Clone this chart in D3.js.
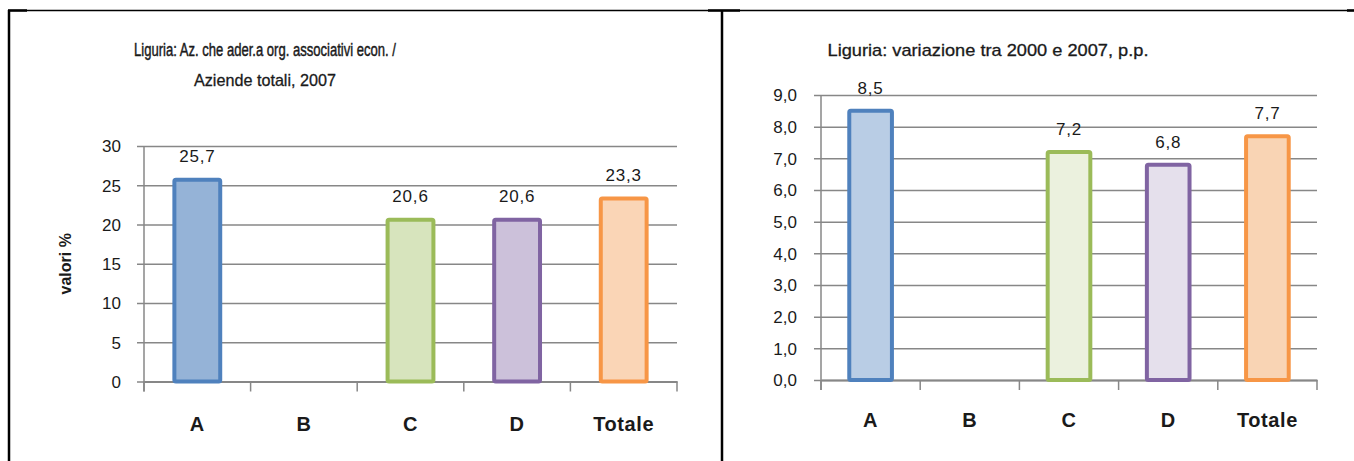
<!DOCTYPE html>
<html>
<head>
<meta charset="utf-8">
<script src="https://cdn.jsdelivr.net/npm/d3@7"></script>
<style>
  html, body { margin: 0; padding: 0; background: #fff; }
  svg { display: block; }
  .title { font-family: "Liberation Sans", Arial, sans-serif; font-size: 17px; fill: #1a1a1a; stroke: #1a1a1a; stroke-width: 0.3px; }
  .title.dense { font-size: 18px; stroke-width: 0.45px; }
  .tick text { font-family: "Liberation Sans", Arial, sans-serif; font-size: 17px; fill: #1a1a1a; }
  .cat text { font-family: "Liberation Sans", Arial, sans-serif; font-size: 20px; font-weight: bold; letter-spacing: 0.6px; fill: #1a1a1a; }
  .val { font-family: "Liberation Sans", Arial, sans-serif; font-size: 17px; letter-spacing: 0.8px; fill: #1a1a1a; }
  .ytitle { font-family: "Liberation Sans", Arial, sans-serif; font-size: 16px; font-weight: bold; fill: #1a1a1a; }
</style>
</head>
<body>
<svg id="chart" width="1354" height="461"></svg>
<script>
// Categories shared by both panels
const categories = ["A", "B", "C", "D", "Totale"];

// Left panel: share of farms in economic associations, 2007 (% values); B has no value
const shareValues = [25.7, null, 20.6, 20.6, 23.3];
const shareTicks = [0, 5, 10, 15, 20, 25, 30];

// Right panel: change between 2000 and 2007, percentage points; B has no value
const changeValues = [8.5, null, 7.2, 6.8, 7.7];
const changeTicks = [0, 1, 2, 3, 4, 5, 6, 7, 8, 9];

// Per-category bar colours
const strokeColors = ["#4f81bd", "#4f81bd", "#9bbb59", "#8064a2", "#f79646"];
const fillLeft = ["#95b3d7", "#95b3d7", "#d7e4bd", "#ccc1da", "#fad5b6"];
const fillRight = ["#b9cde5", "#b9cde5", "#ebf1de", "#e5e0ec", "#f9d4b4"];

const svg = d3.select("#chart");
const fmt = v => d3.format(".1f")(v).replace(".", ",");

// Panel frame lines
const frame = svg.append("g").attr("stroke", "#000").attr("fill", "none");
frame.append("line").attr("x1", 8).attr("x2", 1354).attr("y1", 10.5).attr("y2", 10.5).attr("stroke-width", 1.5);
frame.append("line").attr("x1", 8).attr("x2", 27).attr("y1", 10.5).attr("y2", 10.5).attr("stroke-width", 2.5);
frame.append("line").attr("x1", 708).attr("x2", 740).attr("y1", 10.5).attr("y2", 10.5).attr("stroke-width", 2.5);
frame.append("line").attr("x1", 1347).attr("x2", 1354).attr("y1", 10.5).attr("y2", 10.5).attr("stroke-width", 2.5);
frame.append("line").attr("x1", 9).attr("x2", 9).attr("y1", 10).attr("y2", 461).attr("stroke-width", 2.5);
frame.append("line").attr("x1", 722).attr("x2", 722).attr("y1", 10).attr("y2", 461).attr("stroke-width", 2.5);

function drawPanel(opts) {
  const g = svg.append("g");
  const x = d3.scaleBand().domain(categories).range([opts.x0, opts.x1]).paddingInner(0).paddingOuter(0);
  const y = d3.scaleLinear().domain([0, opts.max]).range([opts.yBase, opts.yTop]);
  const barW = x.bandwidth() * 0.43;

  // Title, one text element per line, fitted to a narrow face width
  opts.title.forEach((line, i) => {
    g.append("text").attr("class", "title" + (opts.titleDense && opts.titleDense[i] ? " dense" : ""))
      .attr("text-anchor", "middle")
      .attr("x", opts.titleX).attr("y", opts.titleY + i * 30)
      .attr("textLength", opts.titleWidths[i]).attr("lengthAdjust", "spacingAndGlyphs")
      .text(line);
  });

  // Gridlines and value axis
  const yAxis = g.append("g").attr("class", "yaxis")
    .attr("transform", `translate(${opts.x0},0)`)
    .call(d3.axisLeft(y).tickValues(opts.ticks).tickFormat(opts.tickFormat)
      .tickSize(-(opts.x1 - opts.x0)).tickSizeOuter(0).tickPadding(0));
  yAxis.select(".domain").remove();
  yAxis.selectAll(".tick line").attr("stroke", "#878787").attr("stroke-width", 1.5)
    .attr("x1", -7);
  yAxis.selectAll(".tick text").attr("x", opts.labelX - opts.x0).attr("dy", "0.35em")
    .attr("font-family", null).attr("font-size", null);

  // Vertical axis line
  g.append("line").attr("x1", opts.x0).attr("x2", opts.x0)
    .attr("y1", opts.yTop).attr("y2", opts.yBase + 10)
    .attr("stroke", "#878787").attr("stroke-width", 1.5);

  // Category axis
  const xAxis = g.append("g").attr("class", "cat")
    .attr("transform", `translate(0,${opts.yBase})`)
    .call(d3.axisBottom(x).tickSize(0).tickPadding(opts.catPad));
  xAxis.select(".domain").attr("stroke", "#878787").attr("stroke-width", 2);
  xAxis.attr("font-family", null).attr("font-size", null);
  const bounds = categories.map(c => x(c)).concat([opts.x1]);
  g.selectAll(".sep").data(bounds).join("line")
    .attr("x1", d => d).attr("x2", d => d)
    .attr("y1", opts.yBase).attr("y2", opts.yBase + 10)
    .attr("stroke", "#878787").attr("stroke-width", 1.5);

  const data = categories.map((c, i) => ({ c, v: opts.values[i], i })).filter(d => d.v != null);

  // Bars
  g.selectAll(".bar").data(data).join("rect")
    .attr("x", d => x(d.c) + (x.bandwidth() - barW) / 2)
    .attr("y", d => y(d.v))
    .attr("width", barW)
    .attr("height", d => y(0) - y(d.v))
    .attr("rx", 1.5)
    .attr("fill", d => opts.fills[d.i])
    .attr("stroke", d => strokeColors[d.i])
    .attr("stroke-width", 4);

  // Value labels
  g.selectAll(".val").data(data).join("text")
    .attr("class", "val")
    .attr("text-anchor", "middle")
    .attr("x", d => x(d.c) + x.bandwidth() / 2)
    .attr("y", d => y(d.v) - opts.valGap)
    .text(d => fmt(d.v));

  if (opts.yTitle) {
    g.append("text").attr("class", "ytitle").attr("text-anchor", "middle")
      .attr("transform", `translate(${opts.yTitleX},${(opts.yTop + opts.yBase) / 2}) rotate(-90)`)
      .text(opts.yTitle);
  }
}

drawPanel({
  x0: 144, x1: 677, yTop: 146, yBase: 381.5, max: 30,
  ticks: shareTicks, tickFormat: d => d, labelX: 121,
  values: shareValues, fills: fillLeft,
  title: ["Liguria: Az. che ader.a org. associativi econ. /", "Aziende totali, 2007"],
  titleWidths: [262, 142], titleDense: [true, false],
  titleX: 265, titleY: 56, catPad: 35, valGap: 18,
  yTitle: "valori %", yTitleX: 71
});

drawPanel({
  x0: 821, x1: 1317, yTop: 95, yBase: 380, max: 9,
  ticks: changeTicks, tickFormat: d => fmt(d), labelX: 797,
  values: changeValues, fills: fillRight,
  title: ["Liguria: variazione tra 2000 e 2007, p.p."],
  titleWidths: [321],
  titleX: 988, titleY: 56, catPad: 33, valGap: 17
});
</script>
</body>
</html>
